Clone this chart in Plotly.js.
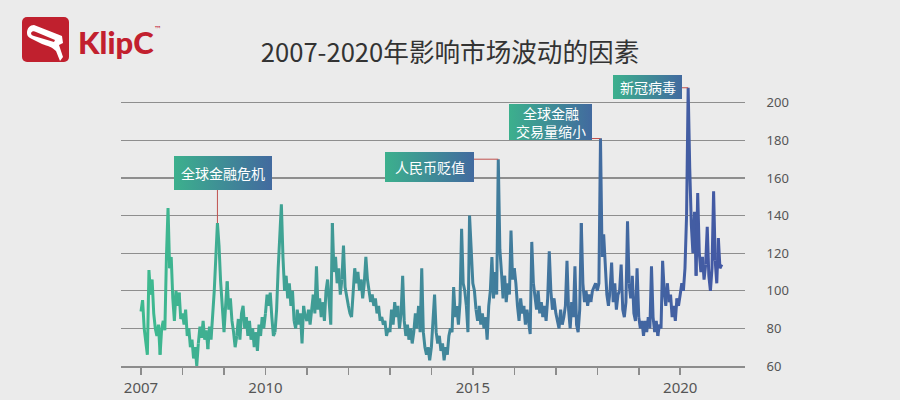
<!DOCTYPE html>
<html>
<head>
<meta charset="utf-8">
<script src="https://cdn.plot.ly/plotly-3.0.1.min.js"></script>
<style>
html,body{margin:0;padding:0;background:#ebebeb;}
#chart{width:900px;height:400px;}
</style>
</head>
<body>
<div id="chart"></div>
<script>
// ---- Data: biweekly index readings (26 per year) ----
const years = [2007,2008,2009,2010,2011,2012,2013,2014,2015,2016,2017,2018,2019,2020,2021];
const v2007 = [89,95,80,74,66,111,98,106,88,80,76,82,66,80,84,79,118,144,112,118,96,84,100,92,99,85];
const v2008 = [88,82,90,76,80,70,74,64,70,60,72,81,75,84,74,79,69,81,74,86,100,118,136,124,105,92];
const v2009 = [78,92,105,90,96,84,78,70,76,85,74,88,92,80,86,76,84,74,80,70,78,68,82,76,86,80];
const v2010 = [88,98,92,99,86,76,78,90,112,128,146,118,100,108,96,104,92,100,84,80,90,82,88,72,92,86];
const v2011 = [84,90,82,92,98,88,113,90,96,86,94,84,100,106,94,82,136,110,118,104,112,98,106,124,102,96];
const v2012 = [92,88,86,100,112,104,110,100,106,96,104,118,106,100,94,98,92,96,88,92,84,86,82,84,76,80];
const v2013 = [78,90,82,94,86,92,80,88,108,84,76,82,74,80,72,78,88,80,92,78,112,78,70,66,70,63];
const v2014 = [70,82,98,78,72,76,68,72,63,70,66,76,80,78,102,86,92,82,94,133,104,100,92,78,140,120];
const v2015 = [104,100,90,84,92,82,88,80,86,74,92,100,118,96,110,98,170,122,110,96,108,94,104,98,132,106];
const v2016 = [112,104,92,84,96,88,92,82,90,84,77,126,104,98,90,100,88,94,86,92,84,96,121,100,90,96];
const v2017 = [88,84,80,90,82,86,92,116,90,80,94,86,113,82,78,90,136,104,94,100,92,98,94,100,102,104];
const v2018 = [100,104,181,118,130,112,98,92,100,115,94,104,90,98,100,114,90,86,94,137,104,96,108,88,84,112];
const v2019 = [86,80,84,76,84,78,86,80,113,86,78,84,76,82,80,116,100,92,104,94,98,86,92,84,96,92];
const v2020 = [98,104,100,112,140,208,165,135,120,142,108,152,120,110,118,106,114,134,108,100,112,153,116,104,128,112];
const v2021 = [114];
const seriesByYear = [v2007,v2008,v2009,v2010,v2011,v2012,v2013,v2014,v2015,v2016,v2017,v2018,v2019,v2020,v2021];

const tickYears = [2007,2008,2009,2010,2011,2012,2013,2014,2015,2016,2017,2018,2019,2020];
const labelYears = [2007,2010,2015,2020];
const yTicks = [60,80,100,120,140,160,180,200];

const events = [
  {label:'全球金融危机', year:2008},
  {label:'人民币贬值', year:2015},
  {label:'全球金融<br>交易量缩小', year:2018},
  {label:'新冠病毒', year:2020}
];

// ---- Build date series ----
function dateOf(y, i){
  const d = new Date(Date.UTC(y,0,1) + i*14*86400000);
  return d.toISOString().slice(0,10);
}
const X = [], Y = [];
years.forEach((yr, k) => {
  seriesByYear[k].forEach((v, i) => { X.push(dateOf(yr, i)); Y.push(v); });
});

// ---- Layout geometry ----
const L=121, R=155, T=84, B=34;
const W = 900-L-R, H = 400-T-B;
const yMin=60, yMax=210;
const px2x = px => (px-L)/W;
const py2y = py => 1-(py-T)/H;
const py2val = py => yMin + (T+H-py)*(yMax-yMin)/H;
const pxPerYear = 41.48, x2007 = 141;
function px2date(px){
  const ms = Date.UTC(2007,0,1) + (px-x2007)/pxPerYear*365.25*86400000;
  return new Date(ms).toISOString().slice(0,19).replace('T',' ');
}

// ---- Gradient line as colored segments ----
const c0=[62,186,143], c1=[67,88,164];
function mix(t){
  return 'rgb('+c0.map((c,j)=>Math.round(c+(c1[j]-c)*t)).join(',')+')';
}
const traces = [];
const seg = 6;
for (let s=0; s<X.length-1; s+=seg){
  const e = Math.min(s+seg, X.length-1);
  const t = (s+e)/2/(X.length-1);
  traces.push({
    type:'scatter', mode:'lines',
    x: X.slice(s,e+1), y: Y.slice(s,e+1),
    line:{color:mix(t), width:3, shape:'linear'},
    hoverinfo:'skip', showlegend:false
  });
}

// ---- Event boxes ----
const boxes = [
  {x0:174, x1:272, y0:156, y1:190},
  {x0:385, x1:474, y0:152, y1:182},
  {x0:509, x1:592, y0:104, y1:140},
  {x0:613, x1:682, y0:75,  y1:99}
];
function gradSrc(a,b){
  const svg = '<svg xmlns="http://www.w3.org/2000/svg" width="100" height="40" viewBox="0 0 100 40" preserveAspectRatio="none">'+
    '<defs><linearGradient id="g" x1="0" y1="0" x2="1" y2="0"><stop offset="0" stop-color="'+a+'"/><stop offset="1" stop-color="'+b+'"/></linearGradient></defs>'+
    '<rect width="100" height="40" fill="url(#g)"/></svg>';
  return 'data:image/svg+xml;charset=utf-8,'+encodeURIComponent(svg);
}
const logoSvg = '<svg xmlns="http://www.w3.org/2000/svg" width="47" height="45" viewBox="0 0 47 45" preserveAspectRatio="none">'+
  '<rect x="0" y="0" width="47" height="45" rx="5" ry="5" fill="#c0202e"/>'+
  '<path d="M5,16 C5,11 8,8 12,8 L40,19 L41,26 L37,28 L41,40 L38,44 L34,34 C30,30 26,29 20,27 L8,21 C6,20 5,18 5,16 Z" fill="#ffffff"/>'+
  '<path d="M9,16 C10,14 12,14 14,15 L33,23 L32,25 L12,19 C10,18.5 9,17.5 9,16 Z" fill="#c0202e"/>'+
  '</svg>';
const logoSrc = 'data:image/svg+xml;charset=utf-8,'+encodeURIComponent(logoSvg);

const images = [{
  source: logoSrc, xref:'paper', yref:'paper',
  x: px2x(22), y: py2y(17), sizex: 47/W, sizey: 45/H,
  xanchor:'left', yanchor:'top', sizing:'stretch', layer:'above'
}];
boxes.forEach(b => images.push({
  source: gradSrc('#3cb08d','#426a9f'), xref:'paper', yref:'paper',
  x: px2x(b.x0), y: py2y(b.y0), sizex:(b.x1-b.x0)/W, sizey:(b.y1-b.y0)/H,
  xanchor:'left', yanchor:'top', sizing:'stretch', layer:'above'
}));

const annotations = [];
const shapes = [];
events.forEach((ev, k) => {
  const b = boxes[k];
  annotations.push({
    xref:'paper', yref:'paper', x: px2x((b.x0+b.x1)/2), y: py2y((b.y0+b.y1)/2),
    xanchor:'center', yanchor:'middle', showarrow:false,
    text: ev.label, align:'center',
    font:{family:'Noto Sans CJK SC, sans-serif', size:14, color:'#ffffff'}
  });
  // peak of the event year
  const arr = seriesByYear[years.indexOf(ev.year)];
  let mi = 0; arr.forEach((v,i)=>{ if (v>arr[mi]) mi=i; });
  const pd = dateOf(ev.year, mi), pv = arr[mi];
  if (k === 0){
    shapes.push({type:'line', xref:'x', yref:'y', x0:pd, x1:pd, y0:pv, y1:py2val(b.y1),
      line:{color:'#c0504d', width:1}});
  } else {
    shapes.push({type:'line', xref:'x', yref:'y', x0:px2date(b.x1), x1:pd, y0:pv, y1:pv,
      line:{color:'#c0504d', width:1}});
  }
});

// logo text
annotations.push({
  xref:'paper', yref:'paper', x:px2x(76), y:py2y(42), xanchor:'left', yanchor:'middle',
  showarrow:false, text:'KlipC',
  font:{family:'Lato, Roboto, sans-serif', size:31, color:'#c2202e', weight:900}
});
annotations.push({
  xref:'paper', yref:'paper', x:px2x(152), y:py2y(29), xanchor:'left', yanchor:'middle',
  showarrow:false, text:'™',
  font:{family:'DejaVu Sans, sans-serif', size:8, color:'#c2202e'}
});

const layout = {
  width:900, height:400,
  margin:{l:L, r:R, t:T, b:B, pad:0},
  paper_bgcolor:'#ebebeb', plot_bgcolor:'#ebebeb',
  showlegend:false,
  title:{
    text:'2007-2020年影响市场波动的因素',
    x:0.5, xref:'container', xanchor:'center',
    y:1-53/400, yref:'container', yanchor:'middle',
    font:{family:'Noto Sans CJK SC, sans-serif', size:25.6, color:'#333333'}
  },
  xaxis:{
    type:'date',
    range:[px2date(L), px2date(L+W)],
    tickvals: tickYears.map(y => y+'-01-01'),
    ticktext: tickYears.map(y => labelYears.includes(y) ? String(y) : ''),
    showgrid:false, zeroline:false,
    showline:true, linecolor:'#8c8c8c', linewidth:1.5,
    ticks:'outside', ticklen:7, tickwidth:1.5, tickcolor:'#8c8c8c',
    tickfont:{family:'Noto Sans, sans-serif', size:15, color:'#555555'}
  },
  yaxis:{
    side:'right', range:[yMin, yMax],
    tickvals: yTicks,
    showgrid:true, gridcolor:'#8e8e8e', gridwidth:1.2,
    zeroline:false, showline:false,
    ticks:'outside', ticklen:18, tickcolor:'rgba(0,0,0,0)',
    tickfont:{family:'Noto Sans, sans-serif', size:13, color:'#555555'}
  },
  images: images,
  annotations: annotations,
  shapes: shapes
};

Plotly.newPlot('chart', traces, layout, {staticPlot:true, displayModeBar:false});
</script>
</body>
</html>
